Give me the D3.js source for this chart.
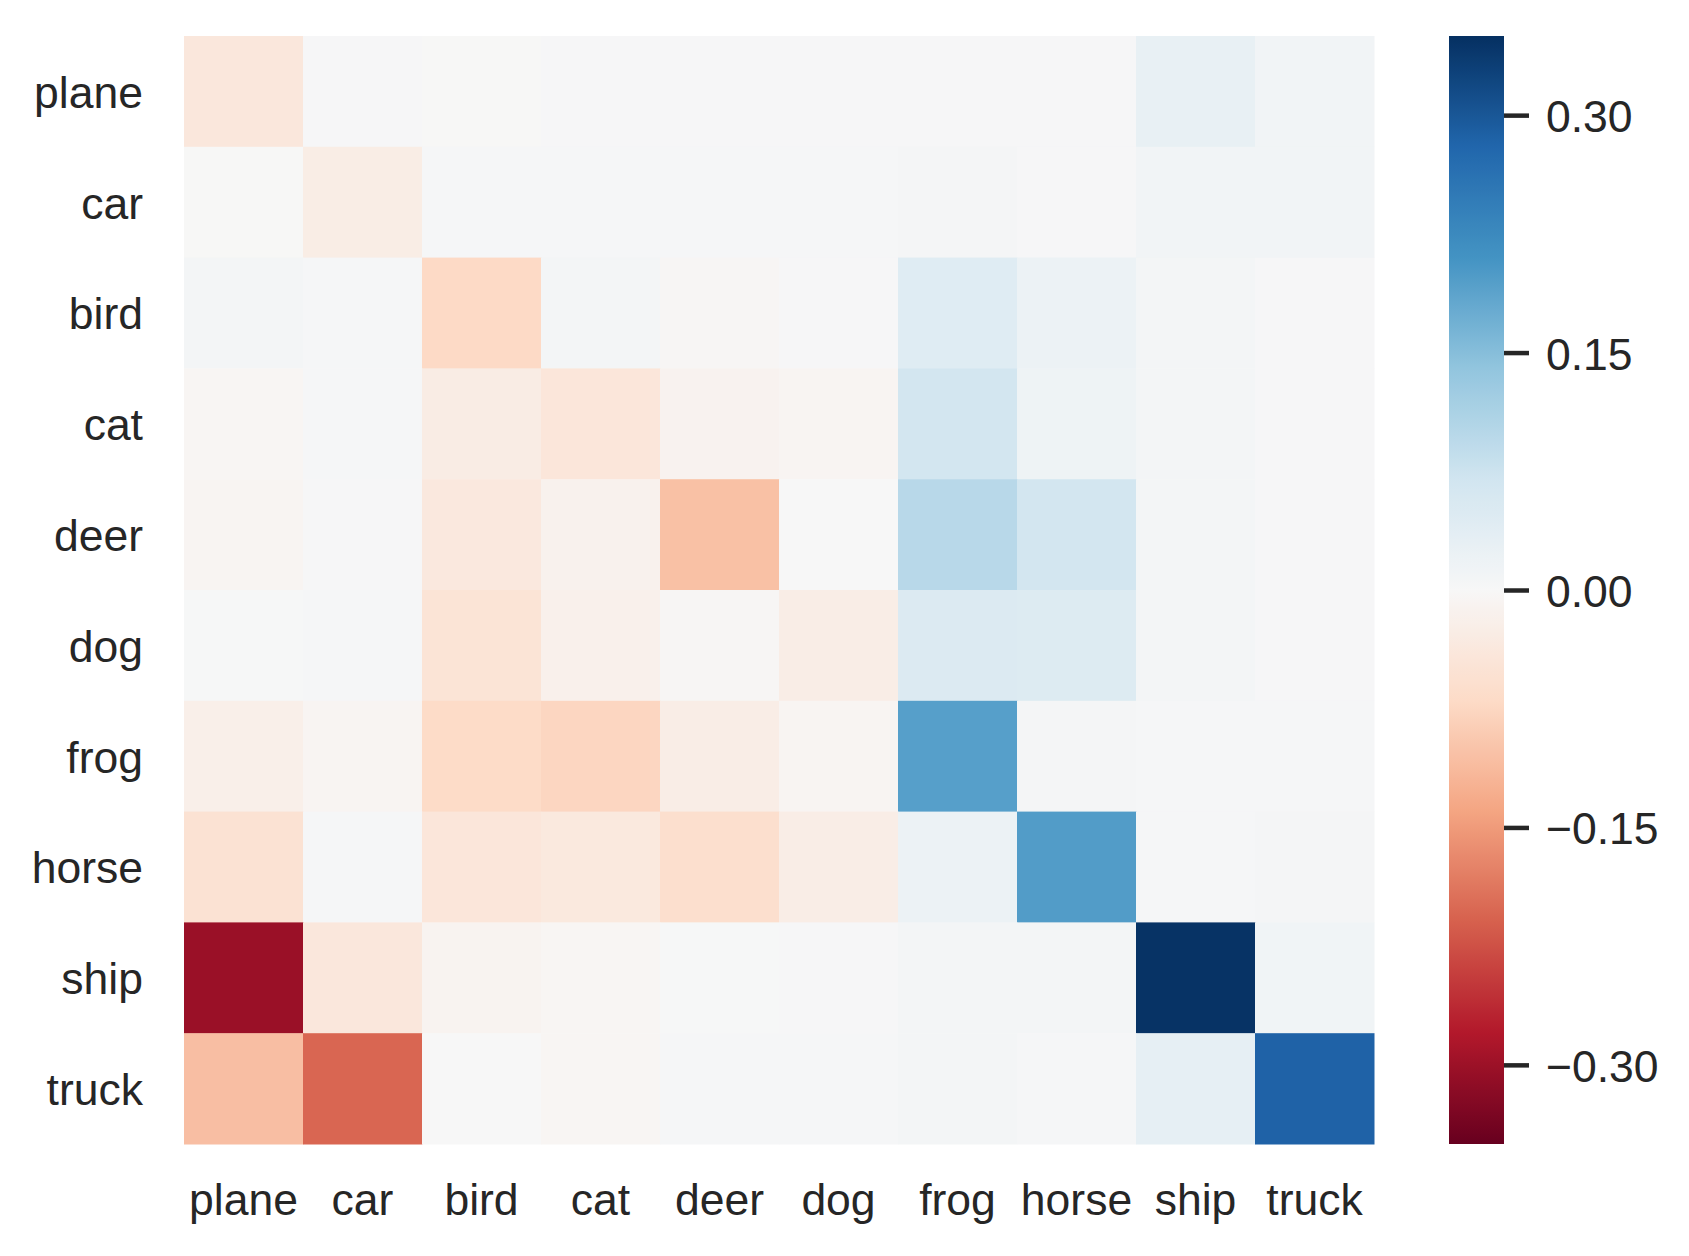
<!DOCTYPE html>
<html>
<head>
<meta charset="utf-8">
<script src="https://cdn.jsdelivr.net/npm/d3@7"></script>
<style>
  html, body { margin: 0; padding: 0; background: #ffffff; }
  svg { display: block; }
  text { font-family: "Liberation Sans", Arial, sans-serif; fill: #262626; }
</style>
</head>
<body>
<svg id="chart" width="1689" height="1256"></svg>
<script>
// ---- data ----
const rowLabels = ["plane", "car", "bird", "cat", "deer", "dog", "frog", "horse", "ship", "truck"];
const colLabels = ["plane", "car", "bird", "cat", "deer", "dog", "frog", "horse", "ship", "truck"];

const rowPlane = [-0.040, 0.002, -0.001, 0.002, 0.002, 0.002, 0.002, 0.002, 0.027, 0.011];
const rowCar   = [-0.001, -0.026, 0.003, 0.003, 0.003, 0.003, 0.006, 0.002, 0.011, 0.011];
const rowBird  = [0.008, 0.003, -0.071, 0.008, -0.005, 0.002, 0.044, 0.020, 0.008, 0.002];
const rowCat   = [-0.006, 0.003, -0.028, -0.042, -0.012, -0.008, 0.066, 0.017, 0.008, 0.002];
const rowDeer  = [-0.007, 0.002, -0.037, -0.015, -0.104, 0.000, 0.098, 0.066, 0.008, 0.002];
const rowDog   = [0.001, 0.003, -0.048, -0.018, -0.005, -0.025, 0.050, 0.047, 0.008, 0.002];
const rowFrog  = [-0.020, -0.008, -0.068, -0.076, -0.025, -0.008, 0.193, 0.006, 0.003, 0.003];
const rowHorse = [-0.052, 0.003, -0.042, -0.036, -0.060, -0.025, 0.020, 0.197, 0.003, 0.006];
const rowShip  = [-0.302, -0.040, -0.010, -0.006, 0.001, 0.002, 0.008, 0.008, 0.346, 0.012];
const rowTruck = [-0.107, -0.204, 0.000, -0.006, 0.003, 0.003, 0.008, 0.003, 0.031, 0.285];

const matrix = [rowPlane, rowCar, rowBird, rowCat, rowDeer, rowDog, rowFrog, rowHorse, rowShip, rowTruck];

const colorbarTicks = [-0.30, -0.15, 0.00, 0.15, 0.30];
const vmin = -0.35, vmax = 0.35;

// matplotlib RdBu stops (low -> high)
const rdbuStops = ["#67001f", "#b2182b", "#d6604d", "#f4a582", "#fddbc7", "#f7f7f7",
                   "#d1e5f0", "#92c5de", "#4393c3", "#2166ac", "#053061"];

// ---- layout ----
const svg = d3.select("#chart");
const plotL = 184, plotR = 1374, plotT = 36, plotB = 1144;
const cbLeft = 1449, cbRight = 1504;

const xBand = d3.scaleBand().domain(colLabels).range([plotL, plotR]).padding(0);
const yBand = d3.scaleBand().domain(rowLabels).range([plotT, plotB]).padding(0);

const stopScale = d3.scaleLinear()
  .domain(d3.range(rdbuStops.length).map(i => vmin + (vmax - vmin) * i / (rdbuStops.length - 1)))
  .range(rdbuStops)
  .interpolate(d3.interpolateRgb)
  .clamp(true);

// ---- cells ----
const cells = [];
matrix.forEach((row, i) => row.forEach((v, j) => cells.push({ r: rowLabels[i], c: colLabels[j], v })));

svg.append("g")
  .selectAll("rect")
  .data(cells)
  .join("rect")
  .attr("x", d => xBand(d.c))
  .attr("y", d => yBand(d.r))
  .attr("width", xBand.bandwidth() + 0.5)
  .attr("height", yBand.bandwidth() + 0.5)
  .attr("fill", d => stopScale(d.v));

// ---- axes ----
const fontSize = 44.5;

const xAxis = svg.append("g")
  .attr("transform", `translate(0,${plotB})`)
  .call(d3.axisBottom(xBand).tickSize(0).tickPadding(39.5));
xAxis.select(".domain").remove();
xAxis.selectAll("text").attr("font-size", fontSize).style("fill", "#262626")
  .attr("font-family", "Liberation Sans, Arial, sans-serif");

const yAxis = svg.append("g")
  .attr("transform", `translate(${plotL},0)`)
  .call(d3.axisLeft(yBand).tickSize(0).tickPadding(41));
yAxis.select(".domain").remove();
yAxis.selectAll("text").attr("font-size", fontSize).attr("dy", "0.37em").style("fill", "#262626")
  .attr("font-family", "Liberation Sans, Arial, sans-serif");

// ---- colorbar ----
const defs = svg.append("defs");
const grad = defs.append("linearGradient")
  .attr("id", "cbgrad")
  .attr("x1", 0).attr("y1", 1).attr("x2", 0).attr("y2", 0);
d3.range(0, 101).forEach(k => {
  const t = k / 100;
  grad.append("stop")
    .attr("offset", t)
    .attr("stop-color", stopScale(vmin + (vmax - vmin) * t));
});

const cbScale = d3.scaleLinear().domain([vmin, vmax]).range([plotB, plotT]);

svg.append("rect")
  .attr("x", cbLeft)
  .attr("y", cbScale(vmax))
  .attr("width", cbRight - cbLeft)
  .attr("height", cbScale(vmin) - cbScale(vmax))
  .attr("fill", "url(#cbgrad)");

const cbAxis = svg.append("g")
  .attr("transform", `translate(${cbRight},0)`)
  .call(d3.axisRight(cbScale).tickValues(colorbarTicks).tickFormat(d3.format(".2f")).tickSize(25).tickPadding(17));
cbAxis.select(".domain").remove();
cbAxis.selectAll("line").attr("stroke", "#262626").attr("stroke-width", 4.5);
cbAxis.selectAll("text").attr("font-size", fontSize).attr("dy", "0.37em").style("fill", "#262626")
  .attr("font-family", "Liberation Sans, Arial, sans-serif");
</script>
</body>
</html>
